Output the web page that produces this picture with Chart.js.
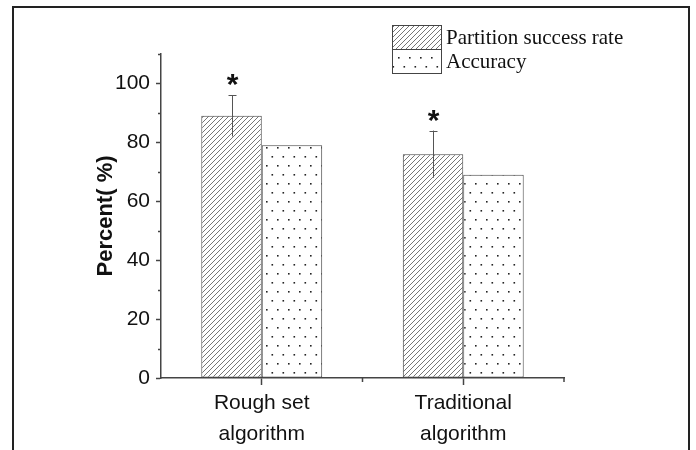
<!DOCTYPE html>
<html>
<head>
<meta charset="utf-8">
<script src="https://cdn.jsdelivr.net/npm/chart.js@4/dist/chart.umd.min.js"></script>
<style>
  html, body { margin: 0; padding: 0; background: #fff; }
  canvas { display: block; }
</style>
</head>
<body>
<canvas id="c" width="696" height="450"></canvas>
<script>
// Categories, series and axis ticks
const categories = [['Rough set', 'algorithm'], ['Traditional', 'algorithm']];
const seriesNames = ['Partition success rate', 'Accuracy'];
const partitionRate = [89, 76];
const partitionErr = [7, 8];
const accuracy = [79, 69];
const significance = ['*', '*'];
const yTicks = [0, 20, 40, 60, 80, 100];
const yMinorTicks = [10, 30, 50, 70, 90, 110];
const yMin = 0, yMax = 110;
const yTitle = 'Percent( %)';

const canvas = document.getElementById('c');
const ctx = canvas.getContext('2d');

// Fill patterns: diagonal hatching and staggered dots
function hatchPattern() {
  const s = 5;
  const t = document.createElement('canvas');
  t.width = s; t.height = s;
  const g = t.getContext('2d');
  g.fillStyle = '#fff';
  g.fillRect(0, 0, s, s);
  g.strokeStyle = '#666';
  g.lineWidth = 0.9;
  g.beginPath();
  g.moveTo(-1, s + 1); g.lineTo(s + 1, -1);
  g.moveTo(-1, 1); g.lineTo(1, -1);
  g.moveTo(s - 1, s + 1); g.lineTo(s + 1, s - 1);
  g.stroke();
  return ctx.createPattern(t, 'repeat');
}
function dotPattern() {
  const w = 11, h = 18;
  const t = document.createElement('canvas');
  t.width = w; t.height = h;
  const g = t.getContext('2d');
  g.fillStyle = '#fff';
  g.fillRect(0, 0, w, h);
  g.fillStyle = '#222';
  g.fillRect(2, 3, 1.6, 1.6);
  g.fillRect(7.5, 12, 1.6, 1.6);
  return ctx.createPattern(t, 'repeat');
}
const hatch = hatchPattern();
const dots = dotPattern();

const LINE = '#444';
const SANS = "'Liberation Sans', Arial, sans-serif";
const SERIF = "'Liberation Serif', 'Times New Roman', serif";

// Outer frame, minor ticks, error bars, significance marks and legend
const decorations = {
  id: 'decorations',
  beforeDraw(chart) {
    const c = chart.ctx;
    c.save();
    c.fillStyle = '#fff';
    c.fillRect(0, 0, chart.width, chart.height);
    c.strokeStyle = '#222';
    c.lineWidth = 2;
    c.beginPath();
    c.moveTo(13, chart.height + 5);
    c.lineTo(13, 7);
    c.lineTo(689, 7);
    c.lineTo(689, chart.height + 5);
    c.stroke();
    c.restore();
  },
  afterDraw(chart) {
    const c = chart.ctx;
    const x = chart.scales.x, y = chart.scales.y;
    const area = chart.chartArea;
    c.save();
    c.strokeStyle = LINE;
    c.lineWidth = 1.5;
    // y minor ticks
    c.beginPath();
    yMinorTicks.forEach(v => {
      const py = Math.round(y.getPixelForValue(v)) + 0.5;
      c.moveTo(area.left, py);
      c.lineTo(area.left - 3, py);
    });
    // x minor ticks between and after categories
    const step = x.getPixelForValue(1) - x.getPixelForValue(0);
    for (let i = 0; i < categories.length; i++) {
      const px = x.getPixelForValue(i) + step / 2;
      c.moveTo(px, area.bottom);
      c.lineTo(px, area.bottom + 4);
    }
    c.stroke();

    // error bars on the partition series
    const meta = chart.getDatasetMeta(0);
    c.strokeStyle = '#555';
    c.lineWidth = 1;
    meta.data.forEach((bar, i) => {
      const top = y.getPixelForValue(partitionRate[i] + partitionErr[i]);
      const bot = y.getPixelForValue(partitionRate[i] - partitionErr[i]);
      const bx = Math.round(bar.x) + 0.5;
      c.beginPath();
      c.moveTo(bx, bot);
      c.lineTo(bx, top);
      c.moveTo(bx - 4, Math.round(top) + 0.5);
      c.lineTo(bx + 4, Math.round(top) + 0.5);
      c.stroke();
      // significance mark above the cap
      c.fillStyle = '#111';
      c.font = 'bold 30px ' + SANS;
      c.textAlign = 'center';
      c.textBaseline = 'alphabetic';
      const m = c.measureText(significance[i]);
      const glyphMid = (m.actualBoundingBoxAscent - m.actualBoundingBoxDescent) / 2;
      c.fillText(significance[i], bx, top - 15 + glyphMid);
    });

    // legend
    const fills = [hatch, dots];
    const boxX = 392, boxW = 49, boxH = 24, boxY0 = 25;
    c.font = '21px ' + SERIF;
    c.textAlign = 'left';
    c.textBaseline = 'middle';
    seriesNames.forEach((name, i) => {
      const by = boxY0 + i * boxH;
      c.fillStyle = fills[i];
      c.fillRect(boxX, by, boxW, boxH);
      c.strokeStyle = LINE;
      c.lineWidth = 1;
      c.strokeRect(boxX + 0.5, by + 0.5, boxW, boxH);
      c.fillStyle = '#111';
      c.fillText(name, boxX + boxW + 5, by + boxH / 2 + 1);
    });
    c.restore();
  }
};

new Chart(ctx, {
  type: 'bar',
  data: {
    labels: categories,
    datasets: [
      { label: seriesNames[0], data: partitionRate, backgroundColor: hatch, borderColor: LINE, borderWidth: 1, borderSkipped: false },
      { label: seriesNames[1], data: accuracy, backgroundColor: dots, borderColor: LINE, borderWidth: 1, borderSkipped: false }
    ]
  },
  options: {
    responsive: false,
    animation: false,
    layout: { padding: { left: 0, right: 132, top: 54, bottom: 0 } },
    plugins: { legend: { display: false }, tooltip: { enabled: false } },
    datasets: { bar: { categoryPercentage: 0.6, barPercentage: 1.0 } },
    scales: {
      x: {
        grid: { offset: false, drawOnChartArea: false, drawTicks: true, tickLength: 7, tickColor: LINE, tickWidth: 1.5 },
        border: { display: true, color: LINE, width: 1.5 },
        ticks: { color: '#111', padding: 2, font: { family: SANS, size: 21, lineHeight: 1.5 }, maxRotation: 0 },
        afterFit(scale) { scale.height = 72; }
      },
      y: {
        min: yMin,
        max: yMax,
        afterBuildTicks(scale) { scale.ticks = yTicks.map(v => ({ value: v })); },
        grid: { drawOnChartArea: false, drawTicks: true, tickLength: 5, tickColor: LINE, tickWidth: 1.5 },
        border: { display: true, color: LINE, width: 1.5 },
        ticks: { color: '#111', padding: 6, font: { family: SANS, size: 21 } },
        title: { display: true, text: yTitle, color: '#111', font: { family: SANS, size: 22, weight: 'bold' }, padding: { top: 93, bottom: 0 } },
        afterFit(scale) { scale.width = 161; }
      }
    }
  },
  plugins: [decorations]
});
</script>
</body>
</html>
